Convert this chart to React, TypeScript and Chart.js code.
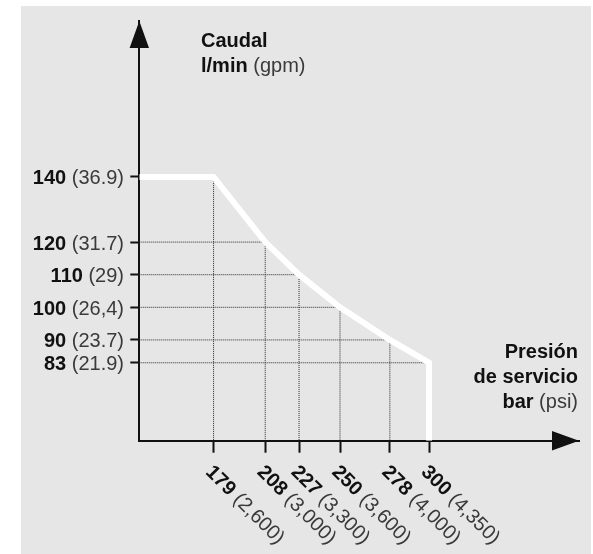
import React, { useEffect, useRef } from "react";
import { Chart, registerables } from "chart.js";

Chart.register(...registerables);

// Data
const pressureBar = [179, 208, 227, 250, 278, 300];
const pressurePsi = ["(2,600)", "(3,000)", "(3,300)", "(3,600)", "(4,000)", "(4,350)"];
const flowLpm = [140, 120, 110, 100, 90, 83];
const flowGpm = ["(36.9)", "(31.7)", "(29)", "(26,4)", "(23.7)", "(21.9)"];

// Axis ranges
const xMin = 137.3;
const xMax = 384.2;
const yMin = 59.1;
const yMax = 187.8;

const FONT = '"Liberation Sans", Arial, Helvetica, sans-serif';
const BOLD = `bold 20px ${FONT}`;
const REG = `20px ${FONT}`;
const INK = "#111";
const INK2 = "#3a3a3a";
const DOT = "#2a2a2a";

export default function App() {
  const ref = useRef<HTMLCanvasElement | null>(null);

  useEffect(() => {
    const canvas = ref.current;
    if (!canvas) return;

    const curve = [
      { x: xMin, y: flowLpm[0] },
      ...pressureBar.map((p, i) => ({ x: p, y: flowLpm[i] })),
      { x: pressureBar[pressureBar.length - 1], y: yMin },
    ];

    const dotted = pressureBar.slice(0, -1).map((p, i) => ({
      type: "line" as const,
      data:
        i === 0
          ? [
              { x: p, y: flowLpm[i] },
              { x: p, y: yMin },
            ]
          : [
              { x: xMin, y: flowLpm[i] },
              { x: p, y: flowLpm[i] },
              { x: p, y: yMin },
            ],
      borderColor: DOT,
      borderWidth: 1,
      borderDash: [1, 1],
      pointRadius: 0,
      tension: 0,
      fill: false,
    }));
    dotted.push({
      type: "line" as const,
      data: [
        { x: xMin, y: flowLpm[flowLpm.length - 1] },
        { x: pressureBar[pressureBar.length - 1], y: flowLpm[flowLpm.length - 1] },
      ],
      borderColor: DOT,
      borderWidth: 1,
      borderDash: [1, 1],
      pointRadius: 0,
      tension: 0,
      fill: false,
    });

    const deco = {
      id: "deco",
      beforeDraw(chart: any) {
        const ctx = chart.ctx;
        ctx.save();
        ctx.fillStyle = "#ffffff";
        ctx.fillRect(0, 0, chart.width, chart.height);
        ctx.fillStyle = "#e6e6e6";
        ctx.fillRect(21, 6, 570, 548);
        ctx.restore();
      },
      afterDraw(chart: any) {
        const ctx = chart.ctx;
        const { left, top, right, bottom } = chart.chartArea;
        const xs = chart.scales.x;
        const ys = chart.scales.y;
        ctx.save();
        // arrows
        ctx.fillStyle = INK;
        ctx.beginPath();
        ctx.moveTo(left, top);
        ctx.lineTo(left - 9.7, top + 27);
        ctx.lineTo(left + 9.7, top + 27);
        ctx.closePath();
        ctx.fill();
        ctx.beginPath();
        ctx.moveTo(right, bottom);
        ctx.lineTo(right - 27, bottom - 9.7);
        ctx.lineTo(right - 27, bottom + 9.7);
        ctx.closePath();
        ctx.fill();

        // y tick labels
        ctx.textBaseline = "alphabetic";
        flowLpm.forEach((v, i) => {
          const py = ys.getPixelForValue(v) + 7.5;
          ctx.textAlign = "right";
          ctx.font = REG;
          ctx.fillStyle = INK2;
          ctx.fillText(flowGpm[i], 124, py);
          const w = ctx.measureText(" " + flowGpm[i]).width;
          ctx.font = BOLD;
          ctx.fillStyle = INK;
          ctx.fillText(String(v), 124 - w, py);
        });

        // x tick labels (rotated)
        pressureBar.forEach((p, i) => {
          const px = xs.getPixelForValue(p);
          ctx.save();
          ctx.translate(px - 5, 469);
          ctx.rotate(Math.PI / 4);
          ctx.textAlign = "left";
          ctx.textBaseline = "middle";
          ctx.font = BOLD;
          ctx.fillStyle = INK;
          ctx.fillText(String(p), 0, 0);
          const w = ctx.measureText(String(p)).width;
          ctx.font = REG;
          ctx.fillStyle = INK2;
          ctx.fillText(" " + pressurePsi[i], w, 0);
          ctx.restore();
        });

        // axis titles
        ctx.textBaseline = "alphabetic";
        ctx.textAlign = "left";
        ctx.font = BOLD;
        ctx.fillStyle = INK;
        ctx.fillText("Caudal", 201, 46.7);
        ctx.fillText("l/min", 201, 71.7);
        const wl = ctx.measureText("l/min").width;
        ctx.font = REG;
        ctx.fillStyle = INK2;
        ctx.fillText(" (gpm)", 201 + wl, 71.7);

        ctx.textAlign = "right";
        ctx.font = BOLD;
        ctx.fillStyle = INK;
        ctx.fillText("Presión", 578, 358.3);
        ctx.fillText("de servicio", 578, 383.3);
        ctx.font = REG;
        ctx.fillStyle = INK2;
        ctx.fillText("(psi)", 578, 408.3);
        const wp = ctx.measureText(" (psi)").width;
        ctx.font = BOLD;
        ctx.fillStyle = INK;
        ctx.fillText("bar", 578 - wp, 408.3);
        ctx.restore();
      },
    };

    const chart = new Chart(canvas, {
      type: "line",
      data: {
        datasets: [
          {
            data: curve,
            borderColor: "#ffffff",
            borderWidth: 6,
            pointRadius: 0,
            tension: 0,
            fill: false,
            borderJoinStyle: "miter",
            borderCapStyle: "butt",
          } as any,
          ...dotted,
        ],
      },
      options: {
        animation: false,
        responsive: false,
        devicePixelRatio: 1,
        layout: { padding: { left: 0, right: 14, top: 21, bottom: 0 } },
        plugins: {
          legend: { display: false },
          tooltip: { enabled: false },
          title: { display: false },
        },
        scales: {
          x: {
            type: "linear",
            min: xMin,
            max: xMax,
            afterBuildTicks: (axis: any) => {
              axis.ticks = pressureBar.map((v) => ({ value: v }));
            },
            afterFit: (axis: any) => {
              axis.height = 554 - 440.7;
            },
            ticks: { display: false, autoSkip: false },
            grid: {
              display: true,
              drawOnChartArea: false,
              drawTicks: true,
              tickLength: 12,
              tickWidth: 2,
              tickColor: INK,
            },
            border: { display: true, color: INK, width: 2 },
          },
          y: {
            type: "linear",
            min: yMin,
            max: yMax,
            afterBuildTicks: (axis: any) => {
              axis.ticks = flowLpm.map((v) => ({ value: v }));
            },
            afterFit: (axis: any) => {
              axis.width = 139.3;
            },
            ticks: { display: false, autoSkip: false },
            grid: {
              display: true,
              drawOnChartArea: false,
              drawTicks: true,
              tickLength: 9,
              tickWidth: 2,
              tickColor: INK,
            },
            border: { display: true, color: INK, width: 2 },
          },
        },
      },
      plugins: [deco],
    } as any);

    return () => chart.destroy();
  }, []);

  return (
    <div style={{ position: "absolute", left: 0, top: 0, width: 593, height: 554 }}>
      <canvas ref={ref} width={593} height={554} style={{ width: 593, height: 554, display: "block" }} />
    </div>
  );
}
